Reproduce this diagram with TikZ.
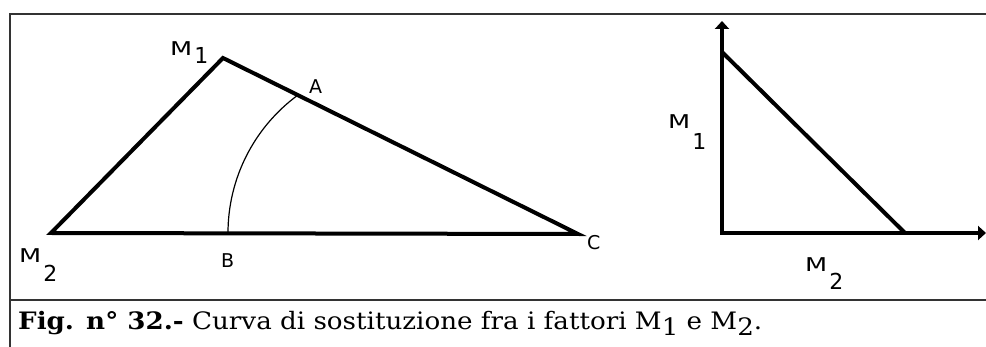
\documentclass[tikz,border=0pt]{standalone}
\usepackage{fontspec}
\usepackage{graphicx}
\setmainfont{DejaVu Serif}
\newfontfamily\labfont{DejaVu Sans}
\usetikzlibrary{arrows.meta}
\newcommand{\mlab}[2]{\labfont\scalebox{1.35}[1]{\fontsize{19}{19}\selectfont M}\kern2pt\raisebox{-#2pt}{\fontsize{22}{22}\selectfont #1}}
\tikzset{
  frameline/.style={line width=2pt, draw=black!80},
  thickline/.style={line width=4pt, line join=miter, line cap=butt},
  arcline/.style={line width=1.2pt},
  axisline/.style={line width=4pt, line join=miter, {Triangle[width=14pt,length=8pt]}-{Triangle[width=14pt,length=8pt]}},
  lab/.style={font=\labfont\fontsize{19}{19}\selectfont, inner sep=0pt, anchor=base west},
  mlabel/.style={inner sep=0pt, anchor=base west}
}
\begin{document}
\begin{tikzpicture}[x=1pt,y=-1pt]
\useasboundingbox (0,0) rectangle (986,347);
\fill[white] (0,0) rectangle (986,347);
% frame
\draw[frameline] (10,347) -- (10,14) -- (986,14);
\draw[frameline] (10,300) -- (986,300);
% left triangle
\coordinate (M2) at (51,233);
\coordinate (M1) at (223,58);
\coordinate (C) at (578,234);
\coordinate (B) at (228,233);
\coordinate (A) at (297.8,95);
\draw[thickline] (M2) -- (M1) -- (C) -- cycle;
\draw[arcline] (B) arc[start angle=180, end angle=233.7, radius=171];
% labels left
\node[mlabel] (lm1) at (170,56) {\mlab{1}{8}};
\node[mlabel] (lm2) at (19,263) {\mlab{2}{19}};
\node[lab] (la) at (309,94) {A};
\node[lab] (lb) at (221,268) {B};
\node[lab] (lc) at (587,250) {C};
% right graph
\coordinate (O) at (722,233);
\coordinate (Ytip) at (722,21);
\coordinate (Xtip) at (986,233);
\coordinate (P) at (722,52);
\coordinate (Q) at (905,233);
\draw[axisline] (Ytip) -- (O) -- (Xtip);
\draw[thickline] (P) -- (Q);
\node[mlabel] (rm1) at (668,129) {\mlab{1}{21}};
\node[mlabel] (rm2) at (805,272) {\mlab{2}{18}};
% caption
\node[inner sep=0pt, anchor=base west] (cap) at (18,330) {\resizebox{744pt}{\height}{\fontsize{24}{24}\selectfont\textbf{Fig. n° 32.-} Curva di sostituzione fra i fattori M\raisebox{-6pt}{1} e M\raisebox{-6pt}{2}.}};
\end{tikzpicture}
\end{document}
